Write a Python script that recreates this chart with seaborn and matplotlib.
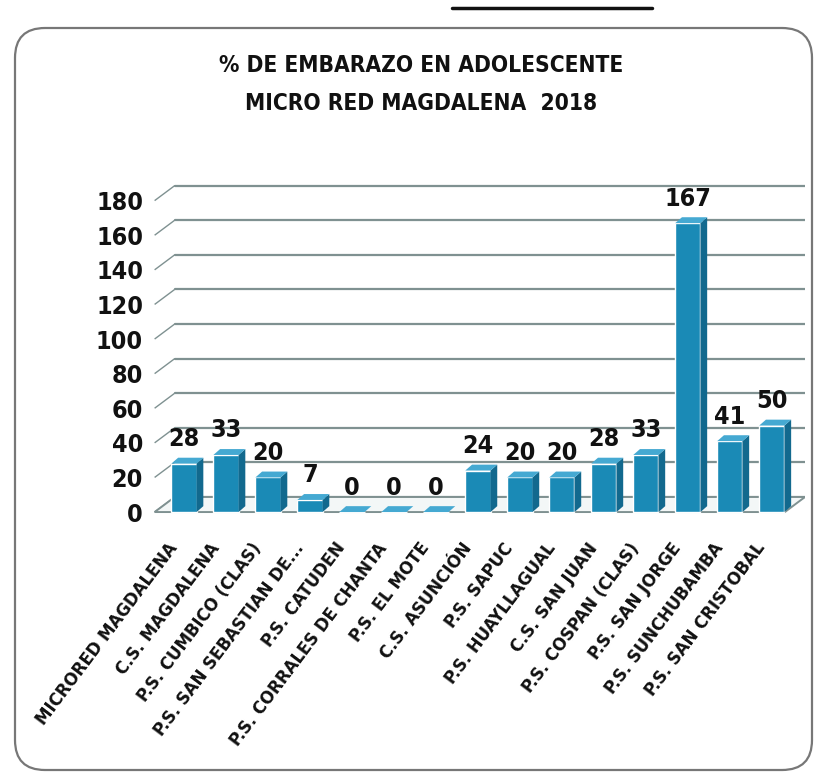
import matplotlib
matplotlib.use("Agg")
import os
import matplotlib.pyplot as plt
import matplotlib.transforms as mtransforms
from matplotlib import font_manager as fm
from matplotlib.patches import Polygon, FancyBboxPatch
from matplotlib.lines import Line2D
import seaborn as sns
import pandas as pd

categories = [
    "MICRORED MAGDALENA", "C.S. MAGDALENA", "P.S. CUMBICO (CLAS)",
    "P.S. SAN SEBASTIAN DE...", "P.S. CATUDEN", "P.S. CORRALES DE CHANTA",
    "P.S. EL MOTE", "C.S. ASUNCIÓN", "P.S. SAPUC", "P.S. HUAYLLAGUAL",
    "C.S. SAN JUAN", "P.S. COSPAN (CLAS)", "P.S. SAN JORGE",
    "P.S. SUNCHUBAMBA", "P.S. SAN CRISTOBAL",
]
values = [28, 33, 20, 7, 0, 0, 0, 24, 20, 20, 28, 33, 167, 41, 50]
yticks = [0, 20, 40, 60, 80, 100, 120, 140, 160, 180]
title_lines = ["% DE EMBARAZO EN ADOLESCENTE", "MICRO RED MAGDALENA  2018"]

sns.set_theme(style="white")
plt.rcParams['font.family'] = ['DejaVu Sans']

# find a condensed bold font if one is installed
prefs = ["notosans-condensedbold", "liberationsansnarrow-bold",
         "dejavusanscondensed-bold", "notosans-semicondensedbold"]
cond_path = None
files = {os.path.basename(f.fname).lower().rsplit(".", 1)[0]: f.fname
         for f in fm.fontManager.ttflist}
for p in prefs:
    if p in files:
        cond_path = files[p]
        break
if cond_path is None:
    for k, v in files.items():
        if ("condensed" in k or "narrow" in k) and "bold" in k and "italic" not in k \
                and "oblique" not in k and "extra" not in k and "semi" not in k:
            cond_path = v
            break

scale = 1.0
if cond_path is not None:
    def FP(size):
        return fm.FontProperties(fname=cond_path, size=size)
else:
    scale = 0.85
    def FP(size):
        return fm.FontProperties(family="DejaVu Sans", weight="bold", size=size * scale)

BAR = "#1a8ab6"
SIDE = "#12698e"
TOP = "#45a9d2"
GRID = "#7f9191"
INK = "#111111"

W, H = 823, 775
fig = plt.figure(figsize=(W / 100, H / 100), dpi=100)
fig.patch.set_facecolor("white")
ax = fig.add_axes([150 / W, 1 - 520 / H, 655 / W, 350 / H])

df = pd.DataFrame({"cat": categories, "val": values})
sns.barplot(data=df, x="cat", y="val", color=BAR, width=0.6,
            saturation=1, ax=ax, zorder=3)

xmin, xmax = -0.81, 14.79
ax.set_xlim(xmin, xmax)
ax.set_ylim(-4.6, 197.7)

# back wall gridlines with pseudo-3D depth
wdx, wdy = 0.48, 8.7
x0 = -0.70
for v in yticks:
    ax.plot([x0, x0 + wdx], [v, v + wdy], color=GRID, lw=1.0, zorder=1,
            solid_capstyle="butt")
    ax.plot([x0 + wdx, xmax], [v + wdy, v + wdy], color=GRID, lw=1.6, zorder=1)

# floor
xr = 14.31
floor = Polygon([(x0, 0), (x0 + wdx, wdy), (xr + wdx, wdy), (xr, 0)],
                closed=True, facecolor="#f3f7f7", edgecolor=GRID, lw=1.4, zorder=2)
ax.add_patch(floor)

# 3D faces on bars
bdx, bdy = 0.16, 3.4
for p in list(ax.patches):
    if p is floor:
        continue
    x, w, h = p.get_x(), p.get_width(), p.get_height()
    side = Polygon([(x + w, 0), (x + w + bdx, bdy), (x + w + bdx, h + bdy), (x + w, h)],
                   closed=True, facecolor=SIDE, edgecolor="none", zorder=3)
    top = Polygon([(x, h), (x + bdx, h + bdy), (x + w + bdx, h + bdy), (x + w, h)],
                  closed=True, facecolor=TOP, edgecolor="none", zorder=3.1)
    ax.add_patch(side)
    ax.add_patch(top)

ax.bar_label(ax.containers[0], labels=[str(v) for v in values], padding=9,
             fontproperties=FP(18), color=INK)

ax.set_yticks(yticks)
ax.set_yticklabels([str(t) for t in yticks], fontproperties=FP(18), color=INK)
ax.set_xticks(range(len(categories)))
ax.set_xticklabels(categories, rotation=53, ha="right", rotation_mode="anchor",
                   fontproperties=FP(13.2), color=INK)
ax.tick_params(axis="y", left=False, pad=-1)
ax.tick_params(axis="x", bottom=False, pad=8)
offset = mtransforms.ScaledTranslation(-17 / 100, 0, fig.dpi_scale_trans)
for lab in ax.get_xticklabels():
    lab.set_transform(lab.get_transform() + offset)
ax.set_xlabel("")
ax.set_ylabel("")
for s in ax.spines.values():
    s.set_visible(False)
ax.set_facecolor("none")
ax.grid(False)

# titles
fig.text(421 / W, 1 - 66 / H, title_lines[0], ha="center", va="center",
         fontproperties=FP(16.3), color=INK)
fig.text(421 / W, 1 - 103 / H, title_lines[1], ha="center", va="center",
         fontproperties=FP(16.3), color=INK)

# rounded frame
frame = FancyBboxPatch((0.15, 0.05), 7.97, 7.42,
                       boxstyle="round,pad=0,rounding_size=0.3",
                       transform=fig.dpi_scale_trans, facecolor="none",
                       edgecolor="#777777", lw=1.6, zorder=0)
fig.patches.append(frame)
fig.lines.append(Line2D([452 / W, 652 / W], [1 - 8 / H, 1 - 8 / H],
                        transform=fig.transFigure, color=INK, lw=2.5))

fig.savefig("out.png", dpi=100)
